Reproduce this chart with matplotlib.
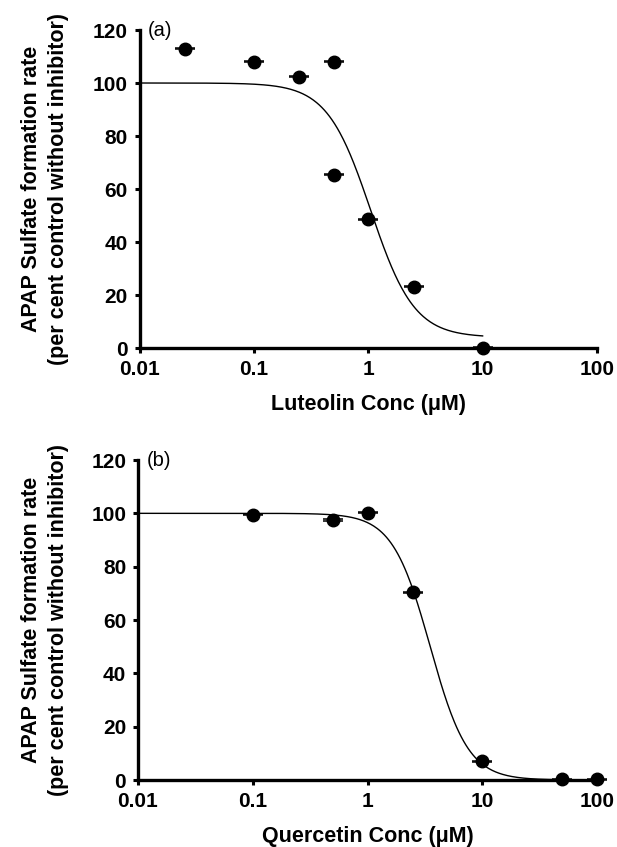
import numpy as np
import matplotlib
matplotlib.use("Agg")
import matplotlib.pyplot as plt

plt.rcParams['font.family'] = ['Liberation Sans', 'DejaVu Sans']

# Panel (a): Luteolin
lut_conc = [0.025, 0.1, 0.25, 0.5, 0.5, 1.0, 2.5, 10.0]
lut_rate = [113.0, 108.0, 102.4, 108.0, 65.3, 48.5, 23.2, 0.0]
lut_err = [0.2, 0.2, 0.2, 0.2, 0.2, 0.2, 0.2, 0.2]
# fitted curve parameters (top, bottom, IC50, Hill slope) and fit range
lut_fit = dict(top=100.0, bottom=4.0, ic50=1.05, hill=2.28)
lut_range = (0.01, 10.0)

# Panel (b): Quercetin
que_conc = [0.1, 0.5, 1.0, 2.5, 10.0, 50.0, 100.0]
que_rate = [99.4, 97.5, 100.3, 70.4, 7.0, 0.2, 0.2]
que_err = [0.2, 0.2, 0.2, 0.2, 0.2, 0.2, 0.2]
que_fit = dict(top=100.0, bottom=0.0, ic50=3.52, hill=2.64)
que_range = (0.01, 100.0)

x_ticks = [0.01, 0.1, 1, 10, 100]
x_ticklabels = ['0.01', '0.1', '1', '10', '100']
y_ticks = [0, 20, 40, 60, 80, 100, 120]

ylabel = 'APAP Sulfate formation rate\n(per cent control without inhibitor)'


def hill(x, top, bottom, ic50, hill):
    return bottom + (top - bottom) / (1.0 + (x / ic50) ** hill)


W, H = 617, 847
fig = plt.figure(figsize=(W / 100, H / 100), dpi=100)


def px_axes(l, r, t, b):
    return fig.add_axes([l / W, 1 - b / H, (r - l) / W, (b - t) / H])


ax_a = px_axes(139.5, 597, 30, 348)
ax_b = px_axes(138, 597, 460, 780)

panels = [
    (ax_a, lut_conc, lut_rate, lut_err, lut_fit, lut_range, 'Luteolin Conc (\u03bcM)', '(a)'),
    (ax_b, que_conc, que_rate, que_err, que_fit, que_range, 'Quercetin Conc (\u03bcM)', '(b)'),
]

for ax, xc, yr, ye, fit, rng, xlabel, tag in panels:
    xs = np.logspace(np.log10(rng[0]), np.log10(rng[1]), 400)
    ax.plot(xs, hill(xs, **fit), color='black', lw=1.0, zorder=2, clip_on=False)
    ax.errorbar(xc, yr, yerr=ye, fmt='o', color='black', ms=9, capsize=7,
                capthick=1.1, elinewidth=1.1, zorder=3, clip_on=False)
    ax.set_xscale('log')
    ax.set_xlim(0.01, 100)
    ax.set_ylim(0, 120)
    ax.set_xticks(x_ticks)
    ax.set_xticklabels(x_ticklabels)
    ax.minorticks_off()
    ax.set_yticks(y_ticks)
    for s in ['top', 'right']:
        ax.spines[s].set_visible(False)
    for s in ['left', 'bottom']:
        ax.spines[s].set_linewidth(2.4)
    ax.tick_params(axis='both', which='major', direction='out', length=3.5, width=2.2,
                   labelsize=15, pad=5)
    for lab in ax.get_xticklabels() + ax.get_yticklabels():
        lab.set_fontweight('bold')
    ax.set_xlabel(xlabel, fontsize=15.5, fontweight='bold', labelpad=11)
    ax.text(0.018, 1.0, tag, transform=ax.transAxes, fontsize=14.5, va='center', ha='left')
    # y label (two lines) placed to the left of the axes
    pos = ax.get_position()
    fig.text(45 / W, (pos.y0 + pos.y1) / 2, ylabel, rotation=90, ha='center', va='center',
             multialignment='center', fontsize=15.5, fontweight='bold', linespacing=1.35)

fig.savefig('out.png', dpi=100)
